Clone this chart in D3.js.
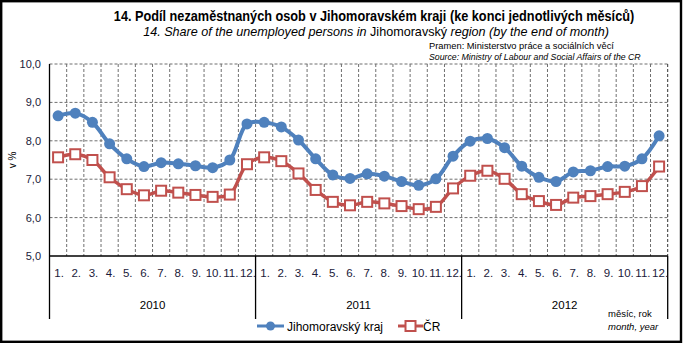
<!DOCTYPE html>
<html><head><meta charset="utf-8">
<script src="https://cdn.jsdelivr.net/npm/d3@7"></script>
<style>body{margin:0;background:#fff}svg{display:block}text{font-family:"Liberation Sans",Arial,sans-serif}</style>
</head><body>
<svg id="c" width="683" height="345"></svg>
<script>
const years = ["2010","2011","2012"];
const months = ["1.","2.","3.","4.","5.","6.","7.","8.","9.","10.","11.","12."];
const yTicks = [5,6,7,8,9,10];
const jmk = [8.65,8.72,8.48,7.92,7.53,7.33,7.43,7.40,7.35,7.30,7.50,8.44,
             8.48,8.36,8.02,7.53,7.11,7.02,7.14,7.08,6.94,6.84,7.01,7.60,
             7.99,8.06,7.82,7.34,7.05,6.94,7.19,7.22,7.33,7.34,7.53,8.13];
const cr  = [7.57,7.65,7.50,7.05,6.74,6.58,6.70,6.65,6.59,6.54,6.60,7.39,
             7.57,7.47,7.15,6.72,6.41,6.32,6.41,6.37,6.30,6.22,6.28,6.76,
             7.09,7.22,7.01,6.61,6.43,6.33,6.52,6.56,6.61,6.67,6.82,7.33];
const seriesNames = ["Jihomoravský kraj","ČR"];

const svg = d3.select("#c");
const L = 49.5, R = 667.7, T = 64, B = 256;
const cats = [];
years.forEach(y => months.forEach(m => cats.push(y + "-" + m)));
const x = d3.scaleBand().domain(cats).range([L, R]).padding(0);
const y = d3.scaleLinear().domain([5, 10]).range([B, T]);
const blue = "#4F81BD", red = "#C0504D";

// outer frame
svg.append("rect").attr("x",1.2).attr("y",1.2).attr("width",679.8).attr("height",340.6)
  .attr("fill","none").attr("stroke","#000").attr("stroke-width",2.4);

// fit text horizontally to a target width by scaling (condensed look)
function fitText(sel, cx, by, w) {
  const n = sel.node().getComputedTextLength();
  const s = Math.min(1, w / n);
  sel.attr("x", 0).attr("y", 0).attr("transform", `translate(${cx},${by}) scale(${s},1)`);
}

// titles
const t1 = svg.append("text").attr("text-anchor","middle")
  .attr("font-size",14).attr("font-weight","bold")
  .text("14. Podíl nezaměstnaných osob v Jihomoravském kraji (ke konci jednotlivých měsíců)");
fitText(t1, 374, 21, 521);
const st = svg.append("text").attr("text-anchor","middle").attr("font-size",13);
st.append("tspan").attr("font-style","italic").text("14. Share of the unemployed persons in ");
st.append("tspan").text("Jihomoravský");
st.append("tspan").attr("font-style","italic").text(" region (by the end of month)");
fitText(st, 376, 36, 466);
const s1 = svg.append("text").attr("font-size",9.5).text("Pramen: Ministerstvo práce a sociálních věcí");
s1.attr("transform", `translate(429,48.5) scale(${Math.min(1,185/s1.node().getComputedTextLength())},1)`);
const s2 = svg.append("text").attr("font-size",9.5).attr("font-style","italic")
  .text("Source: Ministry of Labour and Social Affairs of the CR");
s2.attr("transform", `translate(429,59.5) scale(${Math.min(1,212/s2.node().getComputedTextLength())},1)`);

// grid
const g = svg.append("g");
yTicks.filter(v => v > 5).forEach(v => {
  g.append("line").attr("x1",L).attr("x2",R).attr("y1",y(v)).attr("y2",y(v))
    .attr("stroke","#6f6f6f").attr("stroke-dasharray","3,2").attr("stroke-width",1);
});
cats.forEach((c,i) => {
  const xb = x(c) + x.bandwidth();
  g.append("line").attr("x1",xb).attr("x2",xb).attr("y1",T).attr("y2",B)
    .attr("stroke", i===35 ? "#333" : "#6f6f6f").attr("stroke-dasharray","3,2").attr("stroke-width",1);
});

// axes
svg.append("line").attr("x1",L).attr("x2",L).attr("y1",T).attr("y2",319).attr("stroke","#000").attr("stroke-width",1.3);
svg.append("line").attr("x1",L).attr("x2",R).attr("y1",B).attr("y2",B).attr("stroke","#000").attr("stroke-width",1.3);
[12,24].forEach(i => {
  const xb = x(cats[i]);
  svg.append("line").attr("x1",xb).attr("x2",xb).attr("y1",B).attr("y2",319).attr("stroke","#000").attr("stroke-width",1.3);
});
svg.append("line").attr("x1",R).attr("x2",R).attr("y1",B).attr("y2",319).attr("stroke","#000").attr("stroke-width",1.3);

yTicks.forEach(v => {
  svg.append("text").attr("x",41).attr("y",y(v)+4).attr("text-anchor","end").attr("font-size",11)
    .attr("fill","#1a1a3a").text(d3.format(".1f")(v).replace(".",","));
});
svg.append("text").attr("transform","translate(16,160) rotate(-90)").attr("text-anchor","middle")
  .attr("font-size",10).text("v %");

cats.forEach((c,i) => {
  svg.append("text").attr("x",x(c)+x.bandwidth()/2+1).attr("y",277).attr("text-anchor","middle")
    .attr("font-size",11.5).attr("fill","#1a1a3a").text(months[i%12]);
});
years.forEach((yr,j) => {
  const x0 = x(cats[j*12]), x1 = x(cats[j*12+11]) + x.bandwidth();
  svg.append("text").attr("x",(x0+x1)/2).attr("y",309).attr("text-anchor","middle")
    .attr("font-size",11.5).text(yr);
});
svg.append("text").attr("x",608).attr("y",317).attr("font-size",9.5).text("měsíc, rok");
svg.append("text").attr("x",608).attr("y",330).attr("font-size",9.5).attr("font-style","italic").text("month, year");

// series
const line = d3.line().x((d,i) => x(cats[i]) + x.bandwidth()/2).y(d => y(d)).curve(d3.curveCatmullRom.alpha(0.5));
svg.append("path").attr("d",line(jmk)).attr("fill","none").attr("stroke",blue).attr("stroke-width",4);
svg.selectAll(".pb").data(jmk).join("circle").attr("cx",(d,i)=>x(cats[i])+x.bandwidth()/2).attr("cy",d=>y(d))
  .attr("r",5.5).attr("fill",blue);
svg.append("path").attr("d",line(cr)).attr("fill","none").attr("stroke",red).attr("stroke-width",3.5);
svg.selectAll(".pr").data(cr).join("rect").attr("x",(d,i)=>x(cats[i])+x.bandwidth()/2-5).attr("y",d=>y(d)-5)
  .attr("width",10).attr("height",10).attr("fill","#fff").attr("stroke",red).attr("stroke-width",2);

// legend
const lg = svg.append("g");
lg.append("line").attr("x1",257).attr("x2",284).attr("y1",326).attr("y2",326).attr("stroke",blue).attr("stroke-width",3);
lg.append("circle").attr("cx",270.5).attr("cy",326).attr("r",4.5).attr("fill",blue);
lg.append("text").attr("x",287).attr("y",330.5).attr("font-size",12).text(seriesNames[0]);
lg.append("line").attr("x1",398).attr("x2",423).attr("y1",326).attr("y2",326).attr("stroke",red).attr("stroke-width",3);
lg.append("rect").attr("x",405.5).attr("y",321).attr("width",10).attr("height",10).attr("fill","#fff").attr("stroke",red).attr("stroke-width",2);
lg.append("text").attr("x",423).attr("y",330.5).attr("font-size",12).text(seriesNames[1]);
</script>
</body></html>
